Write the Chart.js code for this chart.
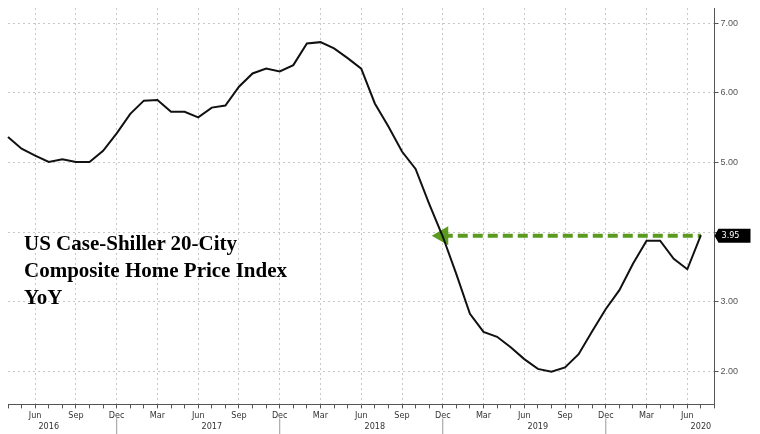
<!DOCTYPE html>
<html><head><meta charset="utf-8">
<script src="https://cdn.jsdelivr.net/npm/chart.js@4/dist/chart.umd.min.js"></script>
<style>html,body{margin:0;background:#fff}#w{position:relative;width:760px;height:434px}
#t{position:absolute;left:24px;top:230px;font:bold 21px "Liberation Serif","DejaVu Serif",serif;line-height:27px;color:#000}</style>
</head><body><div id="w"><canvas id="c" width="760" height="434"></canvas>
<div id="t">US Case-Shiller 20-City<br>Composite Home Price Index<br>YoY</div></div>
<script>
const months=["Apr","May","Jun","Jul","Aug","Sep","Oct","Nov","Dec","Jan","Feb","Mar"];
const startYear=2016;
const yoy=[5.37,5.2,5.1,5.01,5.05,5.01,5.01,5.17,5.42,5.7,5.89,5.9,5.73,5.73,5.65,5.79,5.82,6.09,6.28,6.35,6.31,6.4,6.71,6.73,6.64,6.5,6.35,5.85,5.52,5.16,4.91,4.41,3.94,3.4,2.83,2.57,2.5,2.35,2.18,2.04,2.0,2.06,2.25,2.58,2.9,3.17,3.55,3.88,3.88,3.62,3.47,3.96,null];
const latest=3.95;
const latestStart=32;
const yTicks=[2,3,4,5,6,7];
const labels=[],years=[];
for(let i=0;i<yoy.length;i++){const m=months[i%12];labels.push(m);years.push(startYear+Math.floor((i+3)/12));}
const guide=yoy.map((v,i)=>i>=latestStart&&i<=51?latest:null);
const quarter=m=>["Mar","Jun","Sep","Dec"].includes(m);
const tagPlugin={id:'tag',afterDraw(ch){const y=ch.scales.y,ctx=ch.ctx;const py=y.getPixelForValue(latest);
ctx.save();ctx.fillStyle='#000';const x=y.left+4;ctx.beginPath();ctx.moveTo(x-4,py);ctx.lineTo(x,py-7);ctx.lineTo(x+32,py-7);ctx.lineTo(x+32,py+7);ctx.lineTo(x,py+7);ctx.closePath();ctx.fill();
ctx.fillStyle='#fff';ctx.font='9px "Liberation Sans Narrow","DejaVu Sans Condensed",sans-serif';ctx.textBaseline='middle';ctx.fillText(latest.toFixed(2),x+3,py);
const xs=ch.scales.x;ctx.strokeStyle='#999';ctx.lineWidth=1;
labels.forEach((m,i)=>{if(m==='Dec'){const px=xs.getPixelForValue(i);ctx.beginPath();ctx.moveTo(px,xs.top+14);ctx.lineTo(px,xs.top+32);ctx.stroke();}});
ctx.restore();}};
new Chart(document.getElementById('c'),{type:'line',
data:{labels,datasets:[
{data:yoy,borderColor:'#111',borderWidth:2,pointRadius:0,tension:0},
{data:guide,borderColor:'#5a9a1e',borderWidth:4,borderDash:[10,5],tension:0,
 pointRadius:ctx=>ctx.dataIndex===latestStart?7:0,pointStyle:'triangle',rotation:-90,pointBackgroundColor:'#5a9a1e',pointBorderColor:'#5a9a1e'}]},
options:{responsive:false,animation:false,layout:{padding:{left:8,top:8,right:20}},
plugins:{legend:{display:false},tooltip:{enabled:false}},
scales:{
x:{offset:false,border:{color:'#555',dash:[2,3]},
 grid:{color:ctx=>quarter(labels[ctx.index])?'#c8c8c8':'rgba(0,0,0,0)',tickColor:'#555',tickLength:4},
 ticks:{autoSkip:false,maxRotation:0,color:'#333',font:{size:9,family:'"Liberation Sans Narrow","DejaVu Sans Condensed",sans-serif'},padding:2,
  callback:(v,i)=>{const m=labels[i];if(m==='Jul')return['',String(years[i])];return quarter(m)?m:'';}}},
y:{position:'right',min:1.53,max:7.22,border:{color:'#555',dash:[2,3]},
 afterBuildTicks:ax=>{ax.ticks=yTicks.map(v=>({value:v}));},
 grid:{color:'#c8c8c8',tickColor:'#555',tickLength:4},
 ticks:{color:'#555',font:{size:9},padding:2,callback:v=>v.toFixed(2)}}}},
plugins:[tagPlugin]});
</script></body></html>
